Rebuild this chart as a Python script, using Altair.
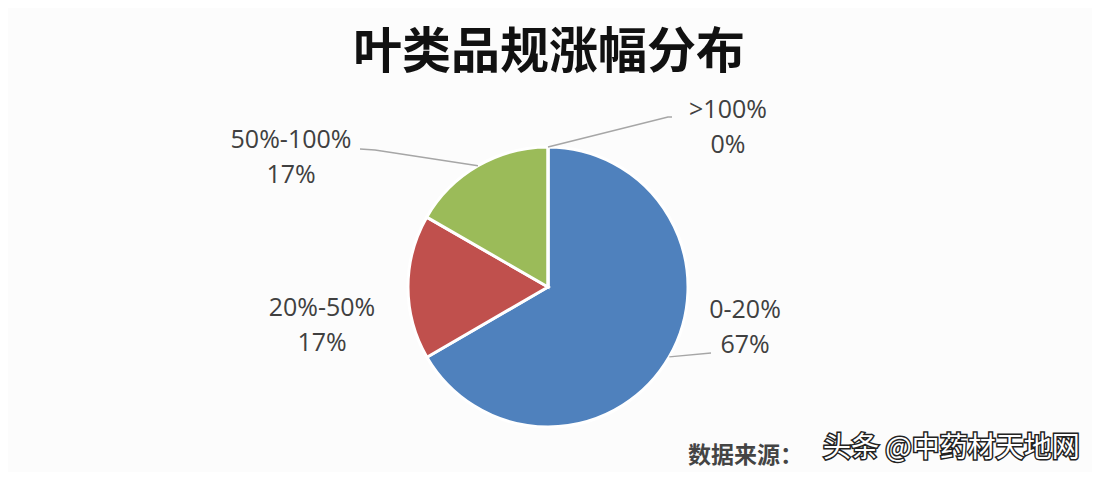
import math
import altair as alt
import pandas as pd

# ---- data ----
categories = ["0-20%", "20%-50%", "50%-100%", ">100%"]
shares = [66.7, 16.7, 16.7, 0.0]
pct_labels = ["67%", "17%", "17%", "0%"]
colors = ["#4F81BD", "#C0504D", "#9BBB59", "#8064A2"]

title_text = "叶类品规涨幅分布"
source_text = "数据来源："
mark_text = "头条 @中药材天地网"

# ---- layout (chart pixel coordinates) ----
W, H = 1084, 464
CX, CY, R = 540, 279, 140
# label centre (x, y of first line) per category
label_pos = {
    "0-20%": (737, 302),
    "20%-50%": (314, 300),
    "50%-100%": (283, 132),
    ">100%": (720, 102),
}
# leader line elbow points per category (None = no line)
leader_pts = {
    "0-20%": [(703, 345)],
    "20%-50%": None,
    "50%-100%": [(367, 142), (352, 141)],
    ">100%": [(660, 109), (664, 109)],
}
LINE_GAP = 35

pie_df = pd.DataFrame({"cat": categories, "share": shares,
                       "order": list(range(len(categories)))})

# mid-angles for leader line starts
total = sum(shares)
cum = 0.0
line_rows = []
for i, (c, s) in enumerate(zip(categories, shares)):
    mid = (cum + s / 2) / total * 2 * math.pi
    cum += s
    pts = leader_pts[c]
    if not pts:
        continue
    sx = CX + R * math.sin(mid)
    sy = CY - R * math.cos(mid)
    seq = [(sx, sy)] + pts
    for j, (px, py) in enumerate(seq):
        line_rows.append({"cat": c, "x": px, "y": py, "k": j})
line_df = pd.DataFrame(line_rows)

text_rows = []
for c, p in zip(categories, pct_labels):
    x, y = label_pos[c]
    text_rows.append({"t": c, "x": x, "y": y})
    text_rows.append({"t": p, "x": x, "y": y + LINE_GAP})
text_df = pd.DataFrame(text_rows)

xs = alt.Scale(domain=[0, W], range=[0, W])
ys = alt.Scale(domain=[0, H], range=[0, H])

pie = alt.Chart(pie_df).mark_arc(
    outerRadius=R, stroke="white", strokeWidth=3
).encode(
    theta=alt.Theta("share:Q", stack=True),
    color=alt.Color("cat:N", scale=alt.Scale(domain=categories, range=colors), legend=None),
    order=alt.Order("order:Q"),
    x=alt.value(CX),
    y=alt.value(CY),
)

leaders = alt.Chart(line_df).mark_line(color="#A6A6A6", strokeWidth=1.5).encode(
    x=alt.X("x:Q", scale=xs, axis=None),
    y=alt.Y("y:Q", scale=ys, axis=None),
    detail="cat:N",
    order="k:Q",
)

labels = alt.Chart(text_df).mark_text(
    font="Open Sans", fontSize=25, color="#404040", align="center", baseline="middle"
).encode(
    x=alt.X("x:Q", scale=xs, axis=None),
    y=alt.Y("y:Q", scale=ys, axis=None),
    text="t:N",
)

title = alt.Chart(pd.DataFrame({"t": [title_text]})).mark_text(
    font="Noto Sans CJK SC", fontSize=49, fontWeight="bold", color="#111111",
    align="center", baseline="middle"
).encode(x=alt.value(541), y=alt.value(45), text="t:N")

source = alt.Chart(pd.DataFrame({"t": [source_text]})).mark_text(
    font="Noto Sans CJK SC", fontSize=23, fontWeight="bold", color="#444444",
    align="left", baseline="middle"
).encode(x=alt.value(680), y=alt.value(448), text="t:N")

wm_outline = alt.Chart(pd.DataFrame({"t": [mark_text]})).mark_text(
    font="Noto Sans CJK SC", fontSize=28, color="#222222", stroke="#222222",
    strokeWidth=3, align="left", baseline="middle"
).encode(x=alt.value(815), y=alt.value(441), text="t:N")

wm_fill = alt.Chart(pd.DataFrame({"t": [mark_text]})).mark_text(
    font="Noto Sans CJK SC", fontSize=28, color="#ffffff",
    align="left", baseline="middle"
).encode(x=alt.value(815), y=alt.value(441), text="t:N")

chart = alt.layer(pie, leaders, labels, title, source, wm_outline, wm_fill).properties(
    width=W, height=H, padding=0, autosize=alt.AutoSizeParams(type="none"),
    background="#FCFCFC",
).configure_view(stroke=None)

chart.save("out.html", embed_options={"renderer": "svg", "actions": False})
